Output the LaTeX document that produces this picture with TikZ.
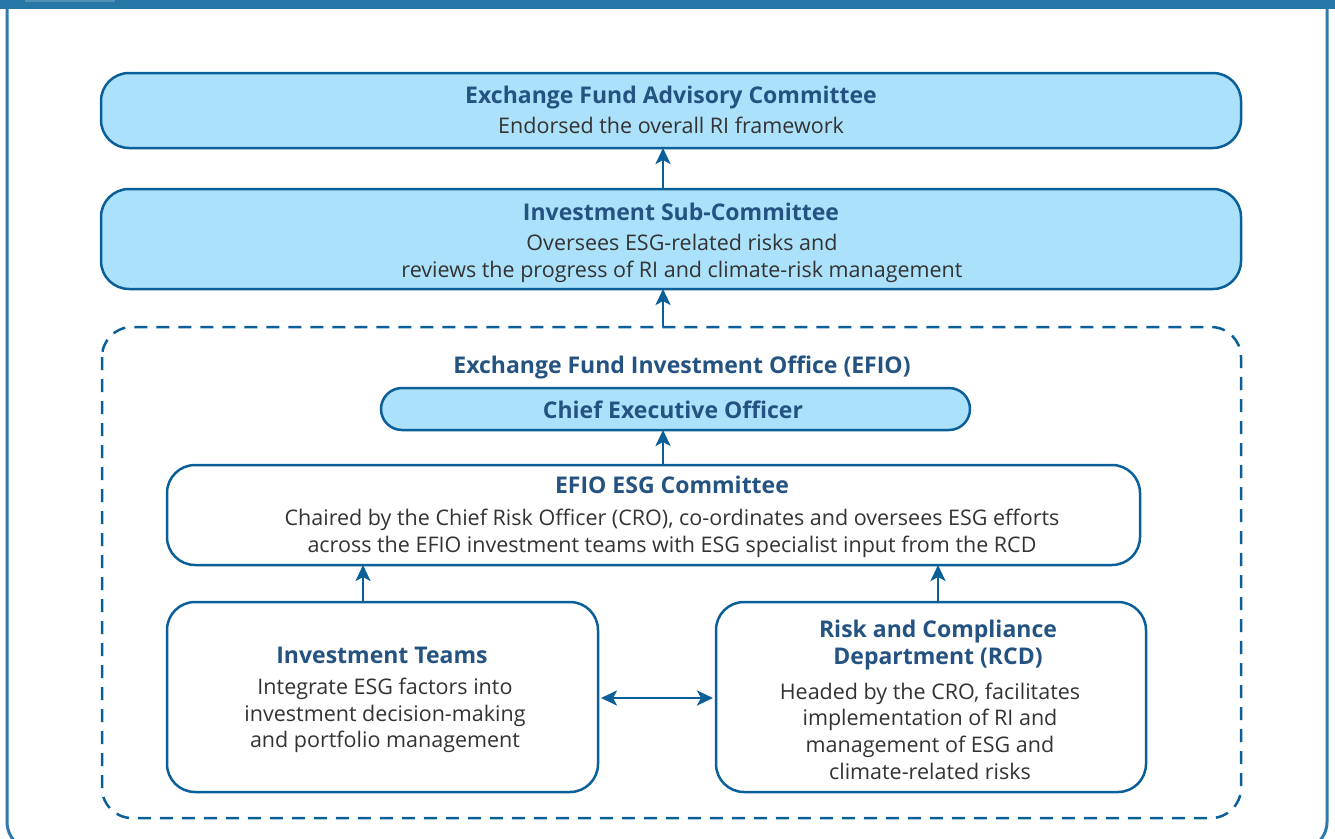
\documentclass[tikz,border=0pt]{standalone}
\usepackage{fontspec}
\setmainfont{Open Sans}
\usetikzlibrary{arrows.meta}
\definecolor{bar}{HTML}{2676A6}
\definecolor{frame}{HTML}{2E7AAE}
\definecolor{line}{HTML}{0B5F99}
\definecolor{lfill}{HTML}{ABE1FA}
\definecolor{ttl}{HTML}{245382}
\definecolor{body}{HTML}{333333}
\tikzset{
  box/.style={draw=line, line width=2.5pt, rounded corners=28pt},
  bluebox/.style={box, fill=lfill},
  whitebox/.style={box, fill=white},
  ttltext/.style={text=ttl, font=\fontsize{23}{27}\selectfont\bfseries, align=center, inner sep=0pt},
  bodytext/.style={text=body, font=\fontsize{21.5}{26.7}\selectfont, align=center, inner sep=0pt},
  arr/.style={draw=line, line width=2.8pt, -{Stealth[length=16pt,width=15pt,inset=4pt]}},
  darr/.style={draw=line, line width=2.8pt, {Stealth[length=16pt,width=15pt,inset=4pt]}-{Stealth[length=16pt,width=15pt,inset=4pt]}},
}
\begin{document}
\begin{tikzpicture}[x=1pt,y=-1pt]
\useasboundingbox (0,0) rectangle (1335,838);
% outer frame
\draw[frame, line width=3pt, rounded corners=28pt] (7,2) -- (7,850) -- (1327,850) -- (1327,2);
\fill[bar] (0,0) rectangle (1335,9);
\fill[bar!80!white] (25,0) rectangle (115,1.5);
% boxes
\draw[bluebox] (101,73) rectangle (1241,148);
\coordinate (efacB) at (663,148);
\node[ttltext] (efacT) at (671,97.5) {Exchange Fund Advisory Committee};
\node[bodytext] (efacD) at (671,125.5) {Endorsed the overall RI framework};

\draw[bluebox] (101,189) rectangle (1241,289);
\coordinate (iscT) at (663,189);
\coordinate (iscB) at (663,289);
\node[ttltext] (iscTi) at (681,212) {Investment Sub-Committee};
\node[bodytext] (iscD) at (682,258.5) {Oversees ESG-related risks and\\reviews the progress of RI and climate-risk management};

\draw[line, line width=2.5pt, dash pattern=on 13pt off 9pt, rounded corners=30pt] (102,327) rectangle (1241,818);
\coordinate (efioT) at (663,327);
\node[ttltext] (efio) at (682,367.5) {Exchange Fund Investment Office (EFIO)};

\draw[bluebox, rounded corners=21pt] (381,388) rectangle (970,430);
\coordinate (ceoB) at (663,430);
\node[ttltext] (ceo) at (673,410) {Chief Executive Officer};

\draw[whitebox] (167,465) rectangle (1140,565);
\coordinate (esgT) at (663,465);
\coordinate (esgL) at (363,565);
\coordinate (esgR) at (938,565);
\node[ttltext] (esgTi) at (672,485) {EFIO ESG Committee};
\node[bodytext] (esgD) at (672,533) {Chaired by the Chief Risk Officer (CRO), co-ordinates and oversees ESG efforts\\across the EFIO investment teams with ESG specialist input from the RCD};

\draw[whitebox] (167,602) rectangle (598,792);
\coordinate (itT) at (363,602);
\coordinate (itR) at (598,698);
\node[ttltext] (itTi) at (382,655) {Investment Teams};
\node[bodytext] (itD) at (385,715.5) {Integrate ESG factors into\\investment decision-making\\and portfolio management};

\draw[whitebox] (716,602) rectangle (1146,792);
\coordinate (rcdT) at (938,602);
\coordinate (rcdL) at (716,698);
\node[ttltext] (rcdTi) at (938,645.5) {Risk and Compliance\\Department (RCD)};
\node[bodytext] (rcdD) at (930,731) {Headed by the CRO, facilitates\\implementation of RI and\\management of ESG and\\climate-related risks};

% connectors
\draw[arr] (efioT) -- (iscB);
\draw[arr] (iscT) -- (efacB);
\draw[arr] (esgT) -- (ceoB);
\draw[arr] (itT) -- (esgL);
\draw[arr] (rcdT) -- (esgR);
\draw[darr] ([xshift=3pt]itR) -- ([xshift=-3pt]rcdL);
\end{tikzpicture}
\end{document}
